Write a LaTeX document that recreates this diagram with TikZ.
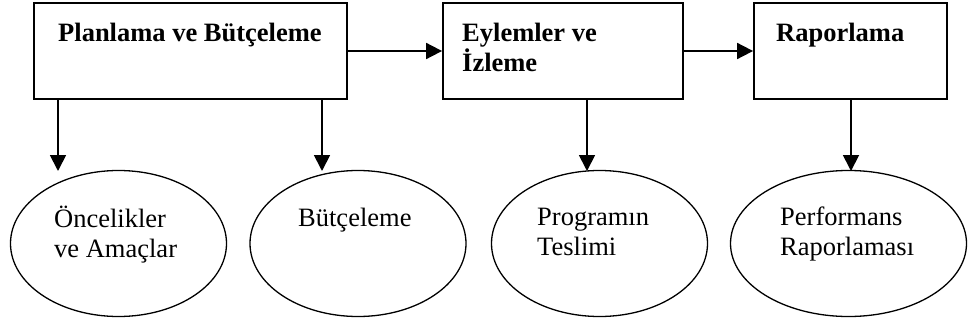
\documentclass[tikz,border=0pt]{standalone}
\usepackage{fontspec}
\setmainfont{Liberation Serif}
\usetikzlibrary{arrows.meta,shapes.geometric}

\tikzset{
  stagebox/.style={draw, line width=1.8pt, rectangle, inner sep=0pt},
  topicoval/.style={draw, line width=1.3pt, ellipse, inner sep=0pt,
                    minimum width=216pt, minimum height=146pt},
  % multi-line texts are placed by the baseline of their last line
  headtext/.style={anchor=base west, inner sep=0pt, align=left,
                   font=\fontsize{26.5}{30}\selectfont\bfseries},
  bodytext/.style={anchor=base west, inner sep=0pt, align=left,
                   font=\fontsize{26.5}{30.5}\selectfont},
  flow/.style={line width=1.8pt, -{Triangle[length=16pt,width=16pt]}}
}

\begin{document}
\begin{tikzpicture}[x=1pt,y=-1pt]
  \useasboundingbox (0,0) rectangle (968,324);

  % stages
  \node[stagebox, minimum width=313pt, minimum height=96pt] (plan) at (190.5,51) {};
  \node[stagebox, minimum width=240pt, minimum height=96pt] (act)  at (563,51) {};
  \node[stagebox, minimum width=193pt, minimum height=96pt] (rep)  at (850.5,51) {};

  \node[headtext] (plantxt) at (58,41.5) {Planlama ve Bütçeleme};
  \node[headtext] (acttxt)  at (462,71.5) {Eylemler ve\\İzleme};
  \node[headtext] (reptxt)  at (776,41.5) {Raporlama};

  % topics
  \node[topicoval] (prio) at (118.5,243.5) {};
  \node[topicoval] (budg) at (358,243.5) {};
  \node[topicoval] (prog) at (599.5,243.5) {};
  \node[topicoval, minimum width=236pt] (perf) at (848.5,243.5) {};

  \node[bodytext] (priotxt) at (54,257.5) {Öncelikler\\ve Amaçlar};
  \node[bodytext] (budgtxt) at (298,226.5) {Bütçeleme};
  \node[bodytext] (progtxt) at (537,255.5) {Programın\\Teslimi};
  \node[bodytext] (perftxt) at (780,255.5) {Performans\\Raporlaması};

  % arrow ends above the topics
  \coordinate (d1) at (58,171);
  \coordinate (d2) at (322,171);
  \coordinate (d3) at (587,171);
  \coordinate (d4) at (851,171);

  % connectors
  \draw[flow] (plan.east) -- (act.west);
  \draw[flow] (act.east) -- (rep.west);
  \draw[flow] (plan.south -| d1) -- (d1);
  \draw[flow] (plan.south -| d2) -- (d2);
  \draw[flow] (act.south -| d3) -- (d3);
  \draw[flow] (rep.south -| d4) -- (d4);
\end{tikzpicture}
\end{document}
